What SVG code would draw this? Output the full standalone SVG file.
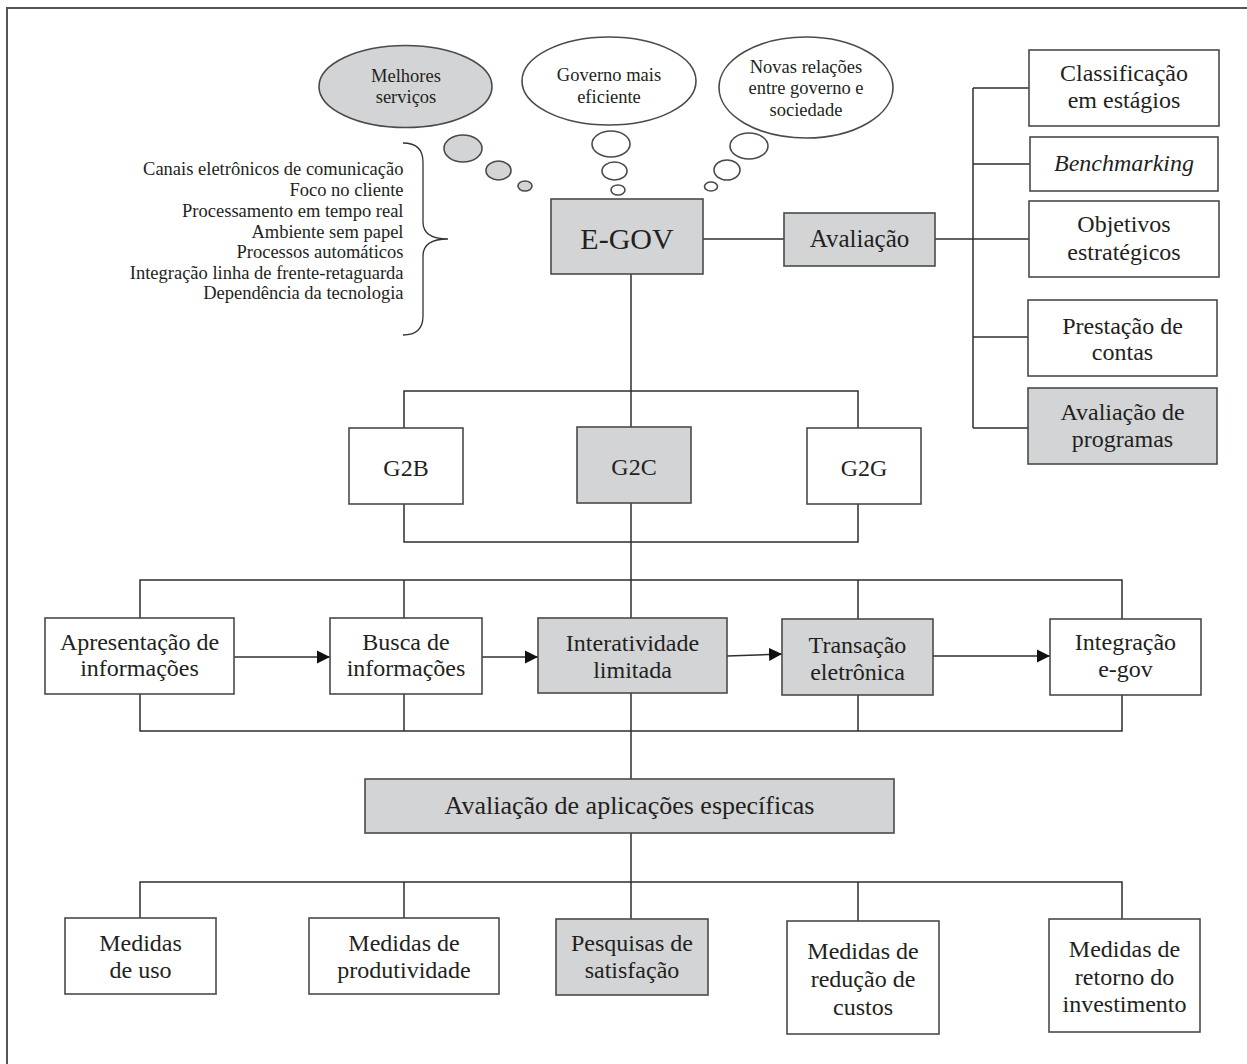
<svg xmlns="http://www.w3.org/2000/svg" width="1247" height="1064" viewBox="0 0 1247 1064">
<style>
text{font-family:"Liberation Serif","Times New Roman",serif;fill:#231f20;text-anchor:middle}
.b{fill:#fff;stroke:#4a4a4a;stroke-width:1.6}
.g{fill:#d3d4d6;stroke:#4a4a4a;stroke-width:1.6}
.t{font-size:24px}
.s{font-size:18.5px}
.c path{fill:none;stroke:#2e2e2e;stroke-width:1.5}
.lst{text-anchor:end;font-size:18.5px}
</style>
<defs>
<marker id="ah" markerUnits="userSpaceOnUse" markerWidth="14" markerHeight="14" refX="13" refY="7" orient="auto" viewBox="0 0 14 14">
<path d="M0,0.5 L13,7 L0,13.5 z" fill="#111"/>
</marker>
</defs>
<path d="M7 1064 V8 H1247" fill="none" stroke="#555" stroke-width="2"/>

<g id="cloud-melhores">
<ellipse class="g" cx="405.5" cy="86.5" rx="86.5" ry="41"/>
<ellipse class="g" cx="463" cy="148.5" rx="19" ry="13.5"/>
<ellipse class="g" cx="498.5" cy="170.5" rx="12.5" ry="9.5"/>
<ellipse class="g" cx="525" cy="186" rx="7" ry="5"/>
<text class="s" x="406" y="82">Melhores</text>
<text class="s" x="406" y="103">serviços</text>
</g>
<g id="cloud-governo">
<ellipse class="b" cx="609" cy="81" rx="87" ry="44"/>
<ellipse class="b" cx="611" cy="144" rx="19" ry="13"/>
<ellipse class="b" cx="614.5" cy="171" rx="12.5" ry="9"/>
<ellipse class="b" cx="618" cy="190" rx="7" ry="5"/>
<text class="s" x="609" y="81">Governo mais</text>
<text class="s" x="609" y="103">eficiente</text>
</g>
<g id="cloud-novas">
<ellipse class="b" cx="806" cy="87.5" rx="87" ry="50.5"/>
<ellipse class="b" cx="749" cy="146" rx="19" ry="13"/>
<ellipse class="b" cx="727" cy="170" rx="13" ry="10"/>
<ellipse class="b" cx="711" cy="186.5" rx="6.5" ry="4.5"/>
<text class="s" x="806" y="73">Novas relações</text>
<text class="s" x="806" y="94">entre governo e</text>
<text class="s" x="806" y="116">sociedade</text>
</g>

<g id="caracteristicas">
<text class="lst" x="403.5" y="175">Canais eletrônicos de comunicação</text>
<text class="lst" x="403.5" y="196">Foco no cliente</text>
<text class="lst" x="403.5" y="217">Processamento em tempo real</text>
<text class="lst" x="403.5" y="238">Ambiente sem papel</text>
<text class="lst" x="403.5" y="258">Processos automáticos</text>
<text class="lst" x="403.5" y="279">Integração linha de frente-retaguarda</text>
<text class="lst" x="403.5" y="299">Dependência da tecnologia</text>
<path d="M403 143 Q423 143 423 162 L423 222 Q423 239 448 239 Q423 239 423 256 L423 316 Q423 335 403 335" fill="none" stroke="#333" stroke-width="1.3"/>
</g>

<g class="c" id="connectors">
<path d="M703 239 H784"/>
<path d="M935 239 H1029"/>
<path d="M973 88 V428"/>
<path d="M973 88 H1029"/>
<path d="M973 164 H1030"/>
<path d="M973 337 H1028"/>
<path d="M973 428 H1028"/>
<path d="M631 274 V779"/>
<path d="M404 428 V391 H858 V428"/>
<path d="M404 504 V542 H858 V504"/>
<path d="M140 618 V580 H1122 V619"/>
<path d="M404 580 V618"/>
<path d="M858 580 V619"/>
<path d="M140 694 V731 H1122 V695"/>
<path d="M404 694 V731"/>
<path d="M858 695 V731"/>
<path d="M631 833 V919"/>
<path d="M140 918 V882 H1122 V919"/>
<path d="M404 882 V918"/>
<path d="M858 882 V921"/>
<path d="M234 657 H330" marker-end="url(#ah)"/>
<path d="M482 657 H538" marker-end="url(#ah)"/>
<path d="M727 656 L782 654" marker-end="url(#ah)"/>
<path d="M933 656 H1050" marker-end="url(#ah)"/>
</g>

<g id="egov"><rect class="g" x="551" y="199" width="152" height="75"/><text x="627" y="249" style="font-size:30px">E-GOV</text></g>
<g id="avaliacao"><rect class="g" x="784" y="213" width="151" height="53"/><text x="859.5" y="247" style="font-size:25px">Avaliação</text></g>
<g id="classificacao"><rect class="b" x="1029" y="50" width="190" height="76"/><text class="t" x="1124" y="81">Classificação</text><text class="t" x="1124" y="108">em estágios</text></g>
<g id="benchmarking"><rect class="b" x="1030" y="137" width="188" height="54"/><text class="t" x="1124" y="171" font-style="italic">Benchmarking</text></g>
<g id="objetivos"><rect class="b" x="1029" y="201" width="190" height="76"/><text class="t" x="1124" y="232">Objetivos</text><text class="t" x="1124" y="260">estratégicos</text></g>
<g id="prestacao"><rect class="b" x="1028" y="300" width="189" height="76"/><text class="t" x="1122.5" y="334">Prestação de</text><text class="t" x="1122.5" y="360">contas</text></g>
<g id="avaliacao-programas"><rect class="g" x="1028" y="388" width="189" height="76"/><text class="t" x="1122.5" y="420">Avaliação de</text><text class="t" x="1122.5" y="447">programas</text></g>

<g id="g2b"><rect class="b" x="349" y="428" width="114" height="76"/><text class="t" x="406" y="476">G2B</text></g>
<g id="g2c"><rect class="g" x="577" y="427" width="114" height="76"/><text class="t" x="634" y="475">G2C</text></g>
<g id="g2g"><rect class="b" x="807" y="428" width="114" height="76"/><text class="t" x="864" y="476">G2G</text></g>

<g id="apresentacao"><rect class="b" x="45" y="618" width="189" height="76"/><text class="t" x="139.5" y="650">Apresentação de</text><text class="t" x="139.5" y="676">informações</text></g>
<g id="busca"><rect class="b" x="330" y="618" width="152" height="76"/><text class="t" x="406" y="650">Busca de</text><text class="t" x="406" y="676">informações</text></g>
<g id="interatividade"><rect class="g" x="538" y="618" width="189" height="75"/><text class="t" x="632.5" y="651">Interatividade</text><text class="t" x="632.5" y="678">limitada</text></g>
<g id="transacao"><rect class="g" x="782" y="619" width="151" height="76"/><text class="t" x="857.5" y="653">Transação</text><text class="t" x="857.5" y="680">eletrônica</text></g>
<g id="integracao"><rect class="b" x="1050" y="619" width="151" height="76"/><text class="t" x="1125.5" y="650">Integração</text><text class="t" x="1125.5" y="677">e-gov</text></g>

<g id="avaliacao-aplicacoes"><rect class="g" x="365" y="779" width="529" height="54"/><text x="629.5" y="814" style="font-size:26px">Avaliação de aplicações específicas</text></g>

<g id="medidas-uso"><rect class="b" x="65" y="918" width="151" height="76"/><text class="t" x="140.5" y="951">Medidas</text><text class="t" x="140.5" y="978">de uso</text></g>
<g id="medidas-produtividade"><rect class="b" x="309" y="918" width="190" height="76"/><text class="t" x="404" y="951">Medidas de</text><text class="t" x="404" y="978">produtividade</text></g>
<g id="pesquisas"><rect class="g" x="556" y="919" width="152" height="76"/><text class="t" x="632" y="951">Pesquisas de</text><text class="t" x="632" y="978">satisfação</text></g>
<g id="medidas-reducao"><rect class="b" x="787" y="921" width="152" height="113"/><text class="t" x="863" y="959">Medidas de</text><text class="t" x="863" y="987">redução de</text><text class="t" x="863" y="1015">custos</text></g>
<g id="medidas-retorno"><rect class="b" x="1049" y="919" width="151" height="113"/><text class="t" x="1124.5" y="957">Medidas de</text><text class="t" x="1124.5" y="985">retorno do</text><text class="t" x="1124.5" y="1012">investimento</text></g>
</svg>
